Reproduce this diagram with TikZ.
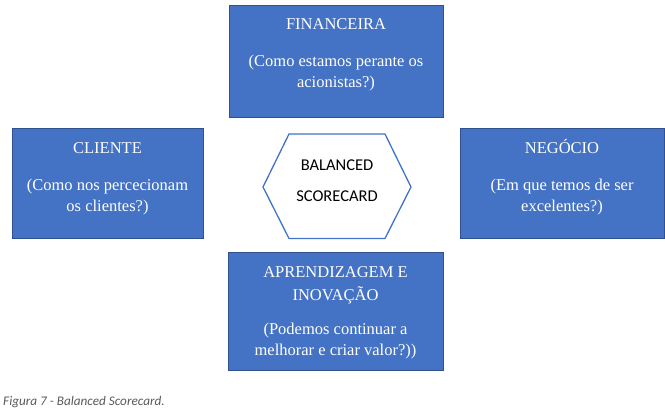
\documentclass[tikz,border=0pt]{standalone}
\usepackage{fontspec}
\setmainfont{Liberation Serif}
\newfontfamily\calib{Carlito}
\definecolor{boxfill}{HTML}{4472C4}
\definecolor{boxline}{HTML}{2F528F}
\definecolor{hexline}{HTML}{4472C4}
\definecolor{capgray}{HTML}{595959}
\begin{document}
\begin{tikzpicture}[x=1pt,y=-1pt,
  box/.style={draw=boxline, line width=1pt, fill=boxfill, inner sep=0pt},
  ln/.style={anchor=base, text=white, font=\fontsize{16.5}{20}\selectfont, inner sep=0pt},
  hexlbl/.style={anchor=base, text=black, font=\calib\fontsize{16.5}{19}\selectfont, inner sep=0pt},
]
\useasboundingbox (0,0) rectangle (665,419);

% boxes
\node[box, minimum width=214pt, minimum height=112pt] (fin) at (336,62) {};
\node[box, minimum width=191pt, minimum height=110pt] (cli) at (107.5,184) {};
\node[box, minimum width=204pt, minimum height=110pt] (neg) at (562,184) {};
\node[box, minimum width=215pt, minimum height=118pt] (apr) at (335.5,312) {};

% hexagon
\coordinate (h1) at (263,187);
\coordinate (h2) at (289,134);
\coordinate (h3) at (385,134);
\coordinate (h4) at (411,187);
\coordinate (h5) at (385,238.5);
\coordinate (h6) at (289,238.5);
\draw[hexline, line width=1.3pt, line join=miter] (h1) -- (h2) -- (h3) -- (h4) -- (h5) -- (h6) -- cycle;
\node[hexlbl] (hexa) at (337,171) {BALANCED};
\node[hexlbl] (hexb) at (337,201.5) {SCORECARD};

% FINANCEIRA
\node[ln] (fin1) at (336,29.5) {FINANCEIRA};
\node[ln] (fin2) at (336,66.5) {(Como estamos perante os};
\node[ln] (fin3) at (336,87.5) {acionistas?)};

% CLIENTE
\node[ln] (cli1) at (107.5,153.3) {CLIENTE};
\node[ln] (cli2) at (107.5,190.7) {(Como nos percecionam};
\node[ln] (cli3) at (107.5,211.5) {os clientes?)};

% NEGOCIO
\node[ln] (neg1) at (562,153.3) {NEGÓCIO};
\node[ln] (neg2) at (562,190.7) {(Em que temos de ser};
\node[ln] (neg3) at (562,211.5) {excelentes?)};

% APRENDIZAGEM
\node[ln] (apr1) at (335.5,277.3) {APRENDIZAGEM E};
\node[ln] (apr2) at (335.5,300.7) {INOVAÇÃO};
\node[ln] (apr3) at (335.5,335) {(Podemos continuar a};
\node[ln] (apr4) at (335.5,356) {melhorar e criar valor?))};

% caption
\node[anchor=base west, inner sep=0pt, text=capgray, font=\calib\itshape\fontsize{13.2}{15}\selectfont] (cap) at (3,406) {Figura 7 - Balanced Scorecard.};
\end{tikzpicture}
\end{document}
